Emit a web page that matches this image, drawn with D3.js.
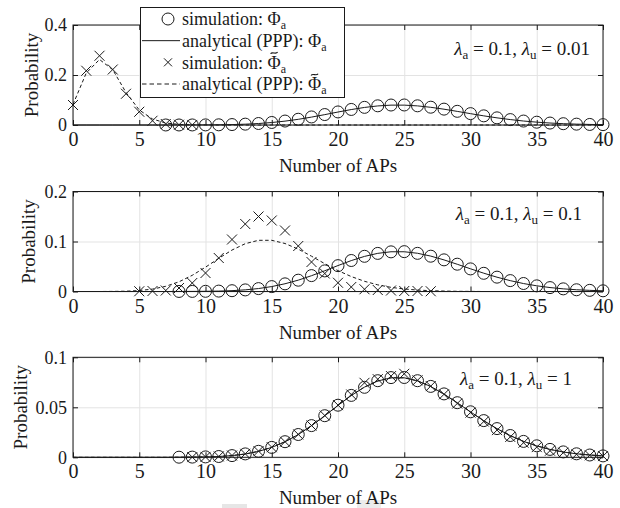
<!DOCTYPE html>
<html>
<head>
<meta charset="utf-8">
<script src="https://cdn.jsdelivr.net/npm/d3@7"></script>
<style>
  body { margin: 0; background: #fff; }
  text { font-family: "Liberation Serif", "Times New Roman", serif; fill: #1a1a1a; }
</style>
</head>
<body>
<script>
// x ticks shared by the three panels
var xTicks = [0, 5, 10, 15, 20, 25, 30, 35, 40];

// analytical (PPP) Phi_a, x = 0..40 (same in every panel)
var phiLine = [0, 0, 0, 0, 0, 0, 0, 0, 0.0001, 0.0002, 0.0004, 0.0008, 0.0017, 0.0033, 0.0059,
  0.0099, 0.0155, 0.0227, 0.0316, 0.0415, 0.0519, 0.0618, 0.0702, 0.0763, 0.0795, 0.0795,
  0.0765, 0.0708, 0.0632, 0.0545, 0.0454, 0.0366, 0.0286, 0.0217, 0.0159, 0.0114, 0.0079,
  0.0053, 0.0035, 0.0023, 0.0014];

// panel 1: lambda_u = 0.01
var p1SimPhi = [0.0001, 0.0001, 0.0002, 0.0004, 0.0008, 0.0018, 0.0034, 0.006, 0.0101, 0.0158, 0.023,
  0.0322, 0.0418, 0.0523, 0.0622, 0.0706, 0.0768, 0.0799, 0.0801, 0.0768, 0.0712, 0.0635,
  0.0547, 0.0455, 0.0366, 0.0286, 0.0216, 0.0158, 0.0112, 0.0078, 0.0052, 0.0034, 0.0022, 0.0014]; // x = 7..40
var p1SimTilde = [0.080, 0.217, 0.277, 0.222, 0.125, 0.053, 0.017, 0.004, 0.001, 0.0002]; // x = 0..9
var p1LineTilde = [0.082, 0.208, 0.262, 0.221, 0.13, 0.06, 0.024, 0.008, 0.0025, 0.0007, 0.0002,
  0, 0, 0, 0, 0, 0, 0, 0, 0, 0, 0, 0, 0, 0, 0, 0, 0, 0, 0, 0, 0, 0, 0, 0, 0, 0, 0, 0, 0, 0];

// panel 2: lambda_u = 0.1
var p2SimPhi = [0.0001, 0.0002, 0.0004, 0.0008, 0.0016, 0.0032, 0.0058, 0.0098, 0.0153, 0.0226, 0.0318,
  0.0412, 0.0517, 0.062, 0.0704, 0.0762, 0.0793, 0.0797, 0.0763, 0.0706, 0.0633, 0.0546,
  0.0452, 0.0364, 0.0287, 0.0218, 0.016, 0.0113, 0.0078, 0.0053, 0.0035, 0.0023, 0.0014]; // x = 8..40
var p2SimTilde = [0.0005, 0.001, 0.002, 0.007, 0.017, 0.037, 0.067, 0.104, 0.135, 0.150, 0.142, 0.122,
  0.091, 0.059, 0.036, 0.0175, 0.009, 0.0045, 0.003, 0.002, 0.001, 0.001, 0.0005]; // x = 5..27
var p2LineTilde = [0, 0, 0, 0.0002, 0.0006, 0.0019, 0.0048, 0.0104, 0.0194, 0.0324, 0.0486, 0.0663,
  0.0829, 0.0956, 0.1024, 0.1024, 0.096, 0.0847, 0.0706, 0.0557, 0.0418, 0.0299, 0.0204,
  0.0133, 0.0083, 0.005, 0.0029, 0.0016, 0.0009, 0.0004, 0.0002, 0, 0, 0, 0, 0, 0, 0, 0, 0, 0];

// panel 3: lambda_u = 1
var p3SimPhi = [0.0001, 0.0002, 0.0004, 0.0008, 0.0017, 0.0034, 0.006, 0.0099, 0.0156, 0.0228, 0.0317,
  0.0416, 0.0521, 0.0619, 0.0700, 0.0766, 0.0797, 0.0798, 0.0766, 0.0709, 0.0634, 0.0546,
  0.0455, 0.0367, 0.0287, 0.0218, 0.0159, 0.0115, 0.0079, 0.0054, 0.0035, 0.0023, 0.0014]; // x = 8..40
var p3SimTilde = [0.0002, 0.0004, 0.0009, 0.0018, 0.0035, 0.0062, 0.0101, 0.0156, 0.0229, 0.0318,
  0.0418, 0.0522, 0.0628, 0.0745, 0.0781, 0.0812, 0.0835, 0.077, 0.0712, 0.063, 0.0538, 0.0447,
  0.0358, 0.0272, 0.0204, 0.0146, 0.0102, 0.0066, 0.0046, 0.003, 0.002, 0.0012]; // x = 9..40
var p3LineTilde = [0, 0, 0, 0, 0, 0, 0, 0, 0.0001, 0.0002, 0.0004, 0.0008, 0.0017, 0.0033, 0.006,
  0.01, 0.0156, 0.0228, 0.0317, 0.0416, 0.052, 0.0619, 0.0703, 0.0764, 0.0795, 0.0795,
  0.0764, 0.0707, 0.0631, 0.0544, 0.0453, 0.0365, 0.0285, 0.0216, 0.0159, 0.0114, 0.0079,
  0.0053, 0.0035, 0.0023, 0.0014];

var panels = [
  { top: 25, ymax: 0.4, yTicks: [0, 0.2, 0.4], yLabX: 38, lu: "0.01", noteX: 590, noteY: 48,
    simPhi: p1SimPhi, simPhiStart: 7, simTilde: p1SimTilde, simTildeStart: 0, lineTilde: p1LineTilde },
  { top: 191.5, ymax: 0.2, yTicks: [0, 0.1, 0.2], yLabX: 35, lu: "0.1", noteX: 582, noteY: 213,
    simPhi: p2SimPhi, simPhiStart: 8, simTilde: p2SimTilde, simTildeStart: 5, lineTilde: p2LineTilde },
  { top: 357.3, ymax: 0.1, yTicks: [0, 0.05, 0.1], yLabX: 27, lu: "1", noteX: 572, noteY: 378,
    simPhi: p3SimPhi, simPhiStart: 8, simTilde: p3SimTilde, simTildeStart: 9, lineTilde: p3LineTilde }
];

var width = 620, height = 508;
var plotLeft = 73, plotRight = 603, plotH = 100;
var ink = "#1a1a1a";

var svg = d3.select("body").append("svg")
  .attr("width", width)
  .attr("height", height);

// faint gray patches at the bottom of the original scan
svg.append("rect").attr("x", 222).attr("y", 504).attr("width", 25).attr("height", 4).attr("fill", "#e6e6e6");
svg.append("rect").attr("x", 357).attr("y", 500).attr("width", 24).attr("height", 8).attr("fill", "#ececec");

var x = d3.scaleLinear().domain([0, 40]).range([plotLeft, plotRight]);
var crossPath = "M-5,-5L5,5M-5,5L5,-5";

panels.forEach(function(p) {
  var y = d3.scaleLinear().domain([0, p.ymax]).range([p.top + plotH, p.top]);
  var g = svg.append("g");
  var bottom = p.top + plotH;

  // grid
  g.append("g").attr("transform", "translate(0," + bottom + ")")
    .call(d3.axisBottom(x).tickValues(xTicks).tickSize(-plotH).tickFormat(""))
    .call(function(s) { s.select(".domain").remove(); s.selectAll("line").attr("stroke", "#e3e3e3"); });
  g.append("g").attr("transform", "translate(" + plotLeft + ",0)")
    .call(d3.axisLeft(y).tickValues(p.yTicks).tickSize(-(plotRight - plotLeft)).tickFormat(""))
    .call(function(s) { s.select(".domain").remove(); s.selectAll("line").attr("stroke", "#e3e3e3"); });

  var line = d3.line().x(function(d, i) { return x(i); }).y(function(d) { return y(d); });

  g.append("path").datum(phiLine).attr("d", line)
    .attr("fill", "none").attr("stroke", ink).attr("stroke-width", 1);
  g.append("path").datum(p.lineTilde).attr("d", line)
    .attr("fill", "none").attr("stroke", ink).attr("stroke-width", 1).attr("stroke-dasharray", "3.5,2.5");

  g.selectAll("circle.sim").data(p.simPhi).enter().append("circle")
    .attr("class", "sim")
    .attr("cx", function(d, i) { return x(p.simPhiStart + i); })
    .attr("cy", function(d) { return y(d); })
    .attr("r", 6)
    .attr("fill", "none").attr("stroke", ink).attr("stroke-width", 1);

  g.selectAll("path.cross").data(p.simTilde).enter().append("path")
    .attr("class", "cross")
    .attr("d", crossPath)
    .attr("transform", function(d, i) { return "translate(" + x(p.simTildeStart + i) + "," + y(d) + ")"; })
    .attr("fill", "none").attr("stroke", ink).attr("stroke-width", 1);

  // ticks inside the box, labels outside
  g.append("g").attr("transform", "translate(0," + bottom + ")")
    .call(d3.axisBottom(x).tickValues(xTicks).tickSize(-5).tickPadding(7))
    .call(function(s) {
      s.select(".domain").remove();
      s.selectAll("line").attr("stroke", ink);
      s.selectAll("text").attr("font-size", 20).attr("font-family", null).style("fill", ink);
    });
  g.append("g").attr("transform", "translate(0," + p.top + ")")
    .call(d3.axisTop(x).tickValues(xTicks).tickSize(-5).tickFormat(""))
    .call(function(s) { s.select(".domain").remove(); s.selectAll("line").attr("stroke", ink); });
  g.append("g").attr("transform", "translate(" + plotLeft + ",0)")
    .call(d3.axisLeft(y).tickValues(p.yTicks).tickSize(-5).tickPadding(6).tickFormat(d3.format("~g")))
    .call(function(s) {
      s.select(".domain").remove();
      s.selectAll("line").attr("stroke", ink);
      s.selectAll("text").attr("font-size", 18).attr("font-family", null).style("fill", ink);
    });
  g.append("g").attr("transform", "translate(" + plotRight + ",0)")
    .call(d3.axisRight(y).tickValues(p.yTicks).tickSize(-5).tickFormat(""))
    .call(function(s) { s.select(".domain").remove(); s.selectAll("line").attr("stroke", ink); });

  g.append("rect")
    .attr("x", plotLeft).attr("y", p.top)
    .attr("width", plotRight - plotLeft).attr("height", plotH)
    .attr("fill", "none").attr("stroke", ink).attr("stroke-width", 1);

  g.append("text")
    .attr("x", (plotLeft + plotRight) / 2).attr("y", bottom + 47)
    .attr("text-anchor", "middle").attr("font-size", 19)
    .text("Number of APs");

  g.append("text")
    .attr("transform", "translate(" + p.yLabX + "," + (p.top + plotH / 2) + ") rotate(-90)")
    .attr("text-anchor", "middle").attr("font-size", 19)
    .text("Probability");

  // annotation
  var note = g.append("text")
    .attr("x", p.noteX).attr("y", p.noteY).attr("dy", "0.35em")
    .attr("text-anchor", "end").attr("font-size", 19);
  note.append("tspan").attr("font-style", "italic").text("λ");
  note.append("tspan").attr("font-size", 13).attr("dy", 4).text("a");
  note.append("tspan").attr("dy", -4).text(" = 0.1,  ");
  note.append("tspan").attr("font-style", "italic").text("λ");
  note.append("tspan").attr("font-size", 13).attr("dy", 4).text("u");
  note.append("tspan").attr("dy", -4).text(" = " + p.lu);
});

// legend
var legendRows = [
  { kind: "circle", label: "simulation: ", tilde: false },
  { kind: "solid", label: "analytical (PPP): ", tilde: false },
  { kind: "cross", label: "simulation: ", tilde: true },
  { kind: "dashed", label: "analytical (PPP): ", tilde: true }
];
var lg = svg.append("g");
lg.append("rect")
  .attr("x", 140.5).attr("y", 7.5).attr("width", 204).attr("height", 90)
  .attr("fill", "#fff").attr("stroke", ink).attr("stroke-width", 1);

var rowY = d3.scalePoint().domain(d3.range(legendRows.length)).range([19, 84]);
legendRows.forEach(function(r, i) {
  var cy = rowY(i);
  if (r.kind === "circle") {
    lg.append("circle").attr("cx", 168).attr("cy", cy).attr("r", 6)
      .attr("fill", "none").attr("stroke", ink);
  } else if (r.kind === "cross") {
    lg.append("path").attr("d", "M-4,-4L4,4M-4,4L4,-4")
      .attr("transform", "translate(168," + cy + ")")
      .attr("fill", "none").attr("stroke", ink);
  } else {
    lg.append("line").attr("x1", 142).attr("x2", 180).attr("y1", cy).attr("y2", cy)
      .attr("stroke", ink).attr("stroke-dasharray", r.kind === "dashed" ? "4.5,3" : null);
  }
  var t = lg.append("text").attr("x", 182).attr("y", cy).attr("dy", "0.35em").attr("font-size", 18);
  t.append("tspan").text(r.label).attr("xml:space", "preserve");
  var phi = t.append("tspan").text("Φ");
  t.append("tspan").attr("font-size", 12).attr("dy", 4).text("a");
  if (r.tilde) {
    // tilde accent over the Phi, drawn as a small stroke
    var ext = phi.node().getExtentOfChar(0);
    var tx = ext.x + ext.width / 2, ty = cy - 9.5;
    lg.append("path")
      .attr("d", "M" + (tx - 3.5) + "," + (ty + 1) + "C" + (tx - 2) + "," + (ty - 1.8) + " " +
        (tx + 2) + "," + (ty + 2.2) + " " + (tx + 3.5) + "," + (ty - 0.8))
      .attr("fill", "none").attr("stroke", ink).attr("stroke-width", 1.1);
  }
});
</script>
</body>
</html>
